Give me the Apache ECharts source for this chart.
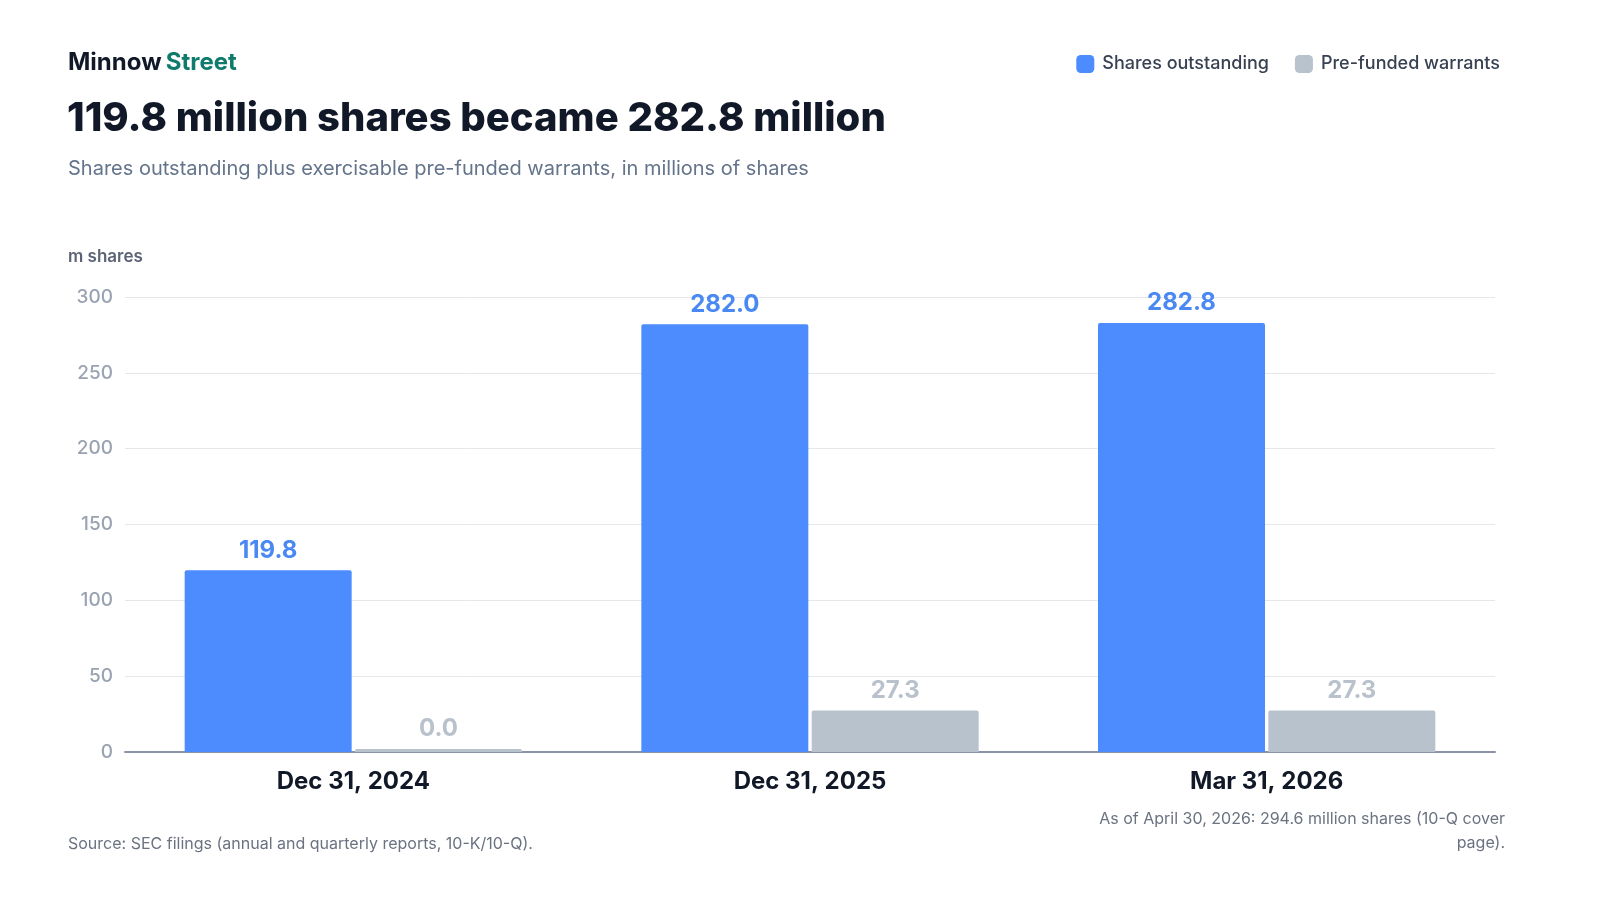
<!DOCTYPE html>
<html>
<head>
    <meta charset="utf-8">
    <title>Shares outstanding</title>
    <script src="https://cdn.jsdelivr.net/npm/echarts@6/dist/echarts.min.js"></script>
    <style>
        html, body { margin: 0; padding: 0; background: #fff; overflow: hidden; width: 100%; height: 100%; }
        #main { width: 100vw; height: 100vh; }
    </style>
</head>
<body>
<div id="main"></div>
<script>
// data
const dates = ['Dec 31, 2024', 'Dec 31, 2025', 'Mar 31, 2026'];
const sharesOutstanding = [119.8, 282.0, 282.8];
const preFundedWarrants = [0.0, 27.3, 27.3];
const yTicks = [0, 50, 100, 150, 200, 250, 300];

const FONT = 'Inter, "Noto Sans", sans-serif';
const BLUE = '#4d8cff';
const GRAY = '#b8c2cc';

const chart = echarts.init(document.getElementById('main'));

chart.setOption({
    backgroundColor: '#fff',
    textStyle: { fontFamily: FONT },
    title: [
        {
            text: '{a|Minnow} {b|Street}',
            left: 63, top: 46,
            textStyle: {
                rich: {
                    a: { fontFamily: FONT, fontSize: 24, fontWeight: 'bold', color: '#111827' },
                    b: { fontFamily: FONT, fontSize: 24, fontWeight: 'bold', color: '#0f7b6c' }
                }
            }
        },
        {
            text: '119.8 million shares became 282.8 million',
            left: 62, top: 94,
            textStyle: { fontFamily: FONT, fontSize: 40, fontWeight: 800, color: '#111827', letterSpacing: -1 }
        },
        {
            text: 'Shares outstanding plus exercisable pre-funded warrants, in millions of shares',
            left: 63, top: 154,
            textStyle: { fontFamily: FONT, fontSize: 20, fontWeight: 'normal', color: '#64748b' }
        },
        {
            text: 'm shares',
            left: 63, top: 243,
            textStyle: { fontFamily: FONT, fontSize: 17, fontWeight: 600, color: '#5b6475' }
        },
        {
            text: 'Source: SEC filings (annual and quarterly reports, 10-K/10-Q).',
            left: 63, top: 831,
            textStyle: { fontFamily: FONT, fontSize: 16, fontWeight: 'normal', color: '#6b7280' }
        }
    ],
    graphic: [
        {
            type: 'text',
            x: 1505, y: 807,
            style: {
                text: 'As of April 30, 2026: 294.6 million shares (10-Q cover\npage).',
                fontFamily: FONT, fontSize: 16, lineHeight: 24,
                fill: '#6b7280', align: 'right', verticalAlign: 'top'
            }
        }
    ],
    legend: {
        right: 95, top: 50,
        itemWidth: 18, itemHeight: 18, itemGap: 26,
        icon: 'roundRect',
        textStyle: { fontFamily: FONT, fontSize: 18, fontWeight: 500, color: '#374151', padding: [0, 0, 0, 3] },
        data: ['Shares outstanding', 'Pre-funded warrants']
    },
    grid: { left: 125, right: 105, top: 297, bottom: 148, containLabel: false },
    xAxis: {
        type: 'category',
        data: dates,
        axisTick: { show: false },
        axisLine: { lineStyle: { color: '#8a94a6', width: 2 } },
        axisLabel: { fontFamily: FONT, fontSize: 24, fontWeight: 'bold', color: '#111827', margin: 18 }
    },
    yAxis: {
        type: 'value',
        min: yTicks[0], max: yTicks[yTicks.length - 1], interval: 50,
        axisLine: { show: false },
        axisTick: { show: false },
        splitLine: { lineStyle: { color: '#e5e7eb', width: 1 } },
        axisLabel: { fontFamily: FONT, fontSize: 19, fontWeight: 500, color: '#9aa3b2', margin: 12 }
    },
    series: [
        {
            name: 'Shares outstanding',
            type: 'bar',
            data: sharesOutstanding,
            barWidth: 167,
            barGap: '2%',
            itemStyle: { color: BLUE, borderRadius: [2, 2, 0, 0] },
            label: {
                show: true, position: 'top', distance: 8,
                formatter: p => p.value.toFixed(1),
                fontFamily: FONT, fontSize: 24, fontWeight: 'bold', color: '#4a89f3'
            }
        },
        {
            name: 'Pre-funded warrants',
            type: 'bar',
            data: preFundedWarrants,
            barWidth: 167,
            barMinHeight: 3,
            itemStyle: { color: GRAY, borderRadius: [2, 2, 0, 0] },
            label: {
                show: true, position: 'top', distance: 8,
                formatter: p => p.value.toFixed(1),
                fontFamily: FONT, fontSize: 24, fontWeight: 'bold', color: '#b8c1cc'
            }
        }
    ]
});
</script>
</body>
</html>
